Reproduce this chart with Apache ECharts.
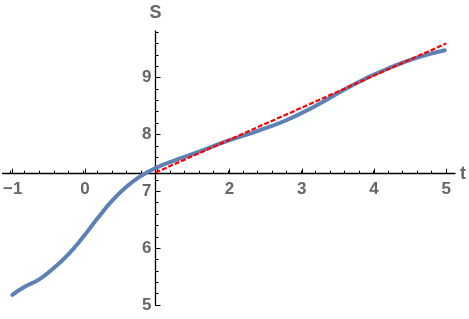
<!DOCTYPE html>
<html><head><meta charset="utf-8">
<script src="https://cdn.jsdelivr.net/npm/echarts@6/dist/echarts.min.js"></script>
<style>html,body{margin:0;padding:0;background:#fff}#c{width:469px;height:319px}</style>
</head><body><div id="c"></div>
<script>
// data
var curveT = [-0.97,-0.80,-0.60,-0.40,-0.20,0.00,0.20,0.40,0.60,0.80,1.00,1.30,1.60,2.00,2.40,2.80,3.20,3.60,3.90,4.20,4.60,4.98];
var curveS = [5.18,5.32,5.45,5.65,5.89,6.19,6.52,6.83,7.08,7.27,7.41,7.56,7.70,7.89,8.06,8.25,8.50,8.79,8.99,9.16,9.35,9.48];
var lineT = [1, 5];
var lineS = [7.33, 9.6];
var xTicks = [-1, 0, 2, 3, 4, 5];
var yTicks = [5, 6, 7, 8, 9];
var xMinor = [], yMinor = [];
for (var i = -5; i <= 25; i++) xMinor.push(+(i * 0.2).toFixed(1));
for (var j = 25; j <= 49; j++) yMinor.push(+(j * 0.2).toFixed(1));
var xRange = [-1.14, 5.12], yRange = [5, 9.82], xCross = 1, yCross = 7.31;

var W = 455, L = 0, T = 31, H = 274;
var pxX = function (v) { return L + (v - xRange[0]) / (xRange[1] - xRange[0]) * W; };
var pxY = function (v) { return T + H - (v - yRange[0]) / (yRange[1] - yRange[0]) * H; };
var axisY = pxY(yCross), axisX = pxX(xCross);
var lab = {color: '#666666', fontSize: 17, fontWeight: 'bold', fontFamily: 'Liberation Sans, Arial, sans-serif'};

var chart = echarts.init(document.getElementById('c'), null, {renderer: 'canvas'});
chart.setOption({
  animation: false,
  grid: [
    {left: L, top: T, width: W, height: H},
    {left: L, top: 0, width: W, height: axisY},
    {left: L, top: 0, width: W, height: axisY},
    {left: axisX, top: T, width: 100, height: H},
    {left: axisX, top: T, width: 100, height: H}
  ],
  xAxis: [
    {gridIndex: 0, type: 'value', min: xRange[0], max: xRange[1], show: false},
    {gridIndex: 1, type: 'value', min: xRange[0], max: xRange[1], position: 'bottom',
     axisLine: {show: true, lineStyle: {color: '#000', width: 1.3}},
     axisTick: {show: true, inside: true, length: 5, customValues: [-1,0,1,2,3,4,5], lineStyle: {color: '#000', width: 1}},
     axisLabel: {show: true, margin: 7, customValues: xTicks, formatter: function (v) { return String(v).replace('-', '\u2212'); }, color: lab.color, fontSize: lab.fontSize, fontWeight: lab.fontWeight, fontFamily: lab.fontFamily},
     splitLine: {show: false},
     name: 't', nameLocation: 'end', nameGap: 5, nameTextStyle: {color: lab.color, fontSize: 18, fontWeight: lab.fontWeight, fontFamily: lab.fontFamily}},
    {gridIndex: 2, type: 'value', min: xRange[0], max: xRange[1], position: 'bottom',
     axisLine: {show: false},
     axisTick: {show: true, inside: true, length: 3, customValues: xMinor, lineStyle: {color: '#000', width: 1}},
     axisLabel: {show: false}, splitLine: {show: false}},
    {gridIndex: 3, type: 'value', min: 0, max: 1, show: false},
    {gridIndex: 4, type: 'value', min: 0, max: 1, show: false}
  ],
  yAxis: [
    {gridIndex: 0, type: 'value', min: yRange[0], max: yRange[1], show: false},
    {gridIndex: 1, type: 'value', min: 0, max: 1, show: false},
    {gridIndex: 2, type: 'value', min: 0, max: 1, show: false},
    {gridIndex: 3, type: 'value', min: yRange[0], max: yRange[1], position: 'left',
     axisLine: {show: true, lineStyle: {color: '#000', width: 1.3}},
     axisTick: {show: true, inside: true, length: 5, customValues: yTicks, lineStyle: {color: '#000', width: 1}},
     axisLabel: {show: true, margin: 4, customValues: yTicks, color: lab.color, fontSize: lab.fontSize, fontWeight: lab.fontWeight, fontFamily: lab.fontFamily},
     splitLine: {show: false},
     name: 'S', nameLocation: 'end', nameGap: 9, nameTextStyle: {color: lab.color, fontSize: 18, fontWeight: lab.fontWeight, fontFamily: lab.fontFamily, align: 'center'}},
    {gridIndex: 4, type: 'value', min: yRange[0], max: yRange[1], position: 'left',
     axisLine: {show: false},
     axisTick: {show: true, inside: true, length: 3, customValues: yMinor, lineStyle: {color: '#000', width: 1}},
     axisLabel: {show: false}, splitLine: {show: false}}
  ],
  series: [
    {type: 'line', xAxisIndex: 0, yAxisIndex: 0, showSymbol: false, smooth: 0.5,
     data: curveT.map(function (t, k) { return [t, curveS[k]]; }),
     lineStyle: {color: '#5E81B5', width: 4, cap: 'round'}, z: 3},
    {type: 'line', xAxisIndex: 0, yAxisIndex: 0, showSymbol: false,
     data: lineT.map(function (t, k) { return [t, lineS[k]]; }),
     lineStyle: {color: '#FF0000', width: 2.2, type: [5, 2]}, z: 4}
  ]
});
</script></body></html>
